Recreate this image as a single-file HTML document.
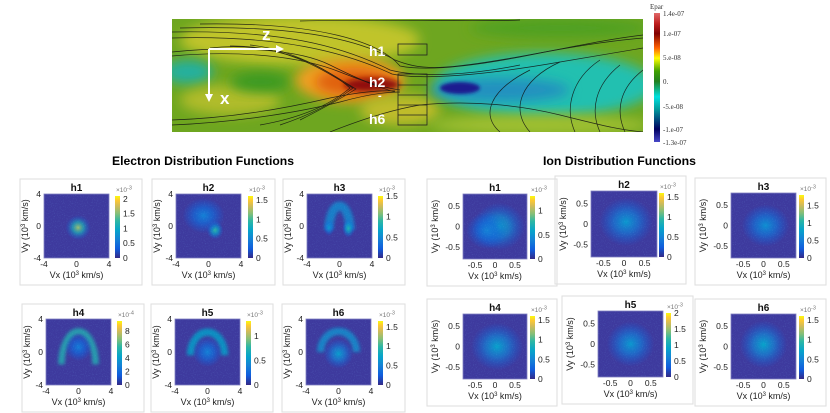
<!DOCTYPE html>
<html><head><meta charset="utf-8"><style>
html,body{margin:0;padding:0;background:#fff;width:830px;height:413px;overflow:hidden}
svg{display:block;font-family:"Liberation Sans",sans-serif}
</style></head><body>
<svg id="fig" width="830" height="413" viewBox="0 0 830 413" xmlns="http://www.w3.org/2000/svg">
<defs>
  <filter id="blur3" x="-50%" y="-50%" width="200%" height="200%"><feGaussianBlur stdDeviation="3"/></filter>
  <filter id="blur6" x="-50%" y="-50%" width="200%" height="200%"><feGaussianBlur stdDeviation="6"/></filter>
  <filter id="blur2" x="-50%" y="-50%" width="200%" height="200%"><feGaussianBlur stdDeviation="1.5"/></filter>
  <filter id="speckle" x="0" y="0" width="100%" height="100%">
    <feTurbulence type="fractalNoise" baseFrequency="0.9" numOctaves="1" seed="3" result="n"/>
    <feColorMatrix in="n" type="matrix" values="0 0 0 0 0.2  0 0 0 0 0.5  0 0 0 0 0.9  0 0 0 1.6 -0.85"/>
  </filter>
  <linearGradient id="parula" x1="0" y1="1" x2="0" y2="0">
    <stop offset="0" stop-color="#352a87"/><stop offset="0.15" stop-color="#0f5cdd"/>
    <stop offset="0.3" stop-color="#1481d6"/><stop offset="0.45" stop-color="#06a4ca"/>
    <stop offset="0.6" stop-color="#2eb7a4"/><stop offset="0.72" stop-color="#87bf77"/>
    <stop offset="0.84" stop-color="#d1bb59"/><stop offset="0.93" stop-color="#fec832"/>
    <stop offset="1" stop-color="#f9fb0e"/>
  </linearGradient>
  <linearGradient id="epar" x1="0" y1="0" x2="0" y2="1">
    <stop offset="0" stop-color="#e06868"/><stop offset="0.08" stop-color="#c02020"/>
    <stop offset="0.16" stop-color="#800000"/><stop offset="0.27" stop-color="#ff6000"/>
    <stop offset="0.35" stop-color="#ffff00"/><stop offset="0.45" stop-color="#40a000"/>
    <stop offset="0.53" stop-color="#208020"/><stop offset="0.65" stop-color="#00e0e0"/>
    <stop offset="0.74" stop-color="#00a0a0"/><stop offset="0.9" stop-color="#000060"/>
    <stop offset="1" stop-color="#4848c8"/>
  </linearGradient>
  <clipPath id="topclip"><rect x="172" y="19" width="471" height="113"/></clipPath>
</defs>

<g clip-path="url(#topclip)">
  <rect x="172" y="19" width="471" height="113" fill="#6ea620"/>
  <ellipse cx="300" cy="40" rx="120" ry="25" fill="#c0c42c" filter="url(#blur6)"/>
  <ellipse cx="188" cy="72" rx="25" ry="12" fill="#20b0a0" filter="url(#blur6)"/>
  <ellipse cx="230" cy="100" rx="50" ry="15" fill="#b0bc2c" filter="url(#blur6)"/>
  <ellipse cx="260" cy="82" rx="30" ry="10" fill="#3a9a20" filter="url(#blur6)"/>
  <ellipse cx="350" cy="80" rx="55" ry="22" fill="#f0a020" filter="url(#blur6)"/>
  <ellipse cx="355" cy="82" rx="40" ry="14" fill="#e06010" filter="url(#blur6)"/>
  <ellipse cx="372" cy="85" rx="28" ry="7" fill="#900808" filter="url(#blur3)"/>
  <ellipse cx="400" cy="110" rx="40" ry="15" fill="#c0bc2c" filter="url(#blur6)"/>
  <ellipse cx="545" cy="85" rx="110" ry="32" fill="#20c0b0" filter="url(#blur6)"/>
  <ellipse cx="500" cy="90" rx="70" ry="12" fill="#2090c0" filter="url(#blur6)"/>
  <ellipse cx="460" cy="88" rx="20" ry="6" fill="#1a1a90" filter="url(#blur2)"/>
  <ellipse cx="540" cy="125" rx="110" ry="10" fill="#a0c030" filter="url(#blur6)"/>
  <ellipse cx="560" cy="28" rx="90" ry="10" fill="#50a020" filter="url(#blur6)"/>
  <g fill="none" stroke="#111" stroke-width="0.7" opacity="0.85">
    <path d="M172 52 C240 45 300 50 330 65 C360 80 380 88 395 92"/>
    <path d="M172 56 C240 50 300 56 340 72 C365 82 385 88 400 90"/>
    <path d="M172 120 C240 118 300 105 330 98 C360 92 380 90 395 91"/>
    <path d="M172 125 C240 122 300 112 340 102 C365 95 385 92 400 92"/>
    <path d="M210 48 C280 40 330 70 350 88 C330 105 300 118 260 125"/>
    <path d="M230 46 C290 45 330 75 353 88 C335 102 310 115 280 125"/>
    <path d="M250 45 C300 50 340 80 356 89 C340 99 320 110 300 120"/>
    <path d="M180 28 C300 25 360 40 395 60 C420 70 440 70 500 60 C560 50 600 40 643 35"/>
    <path d="M200 24 C320 22 380 42 400 66 C430 72 480 65 530 55 C580 45 620 40 643 38"/>
    <path d="M172 32 C280 30 340 45 390 70 C420 78 470 75 520 65"/>
    <path d="M172 38 C280 35 345 52 392 74 C420 80 480 76 560 62 C600 55 630 50 643 48"/>
    <path d="M330 132 C360 120 390 110 420 105 C470 100 520 105 560 115 C600 125 620 130 643 132"/>
    <path d="M600 60 C570 80 565 110 575 132"/>
    <path d="M620 65 C595 85 590 110 600 132"/>
    <path d="M643 70 C620 88 615 110 625 132"/>
    <path d="M560 62 C520 80 510 110 530 132"/>
    <path d="M530 70 C490 90 480 115 500 132"/>
    <path d="M300 21 C400 19 480 22 520 20"/>
  </g>
  <g fill="none" stroke="#222" stroke-width="0.8">
    <rect x="398" y="44" width="29" height="11"/>
    <rect x="398" y="74" width="29" height="51"/>
    <line x1="398" y1="85" x2="427" y2="85"/><line x1="398" y1="95" x2="427" y2="95"/>
    <line x1="398" y1="105" x2="427" y2="105"/><line x1="398" y1="115" x2="427" y2="115"/>
  </g>
  <g stroke="#fff" stroke-width="2" fill="#fff">
    <line x1="209" y1="49" x2="280" y2="49"/><polygon points="284,49 276,45 276,53" stroke="none"/>
    <line x1="209" y1="49" x2="209" y2="98"/><polygon points="209,102 205,94 213,94" stroke="none"/>
  </g>
  <g fill="#fff" font-weight="bold">
    <text x="262" y="40" font-size="17">z</text>
    <text x="220" y="104" font-size="17">x</text>
    <text x="369" y="56" font-size="14">h1</text>
    <text x="369" y="87" font-size="14">h2</text>
    <text x="378" y="99" font-size="11">-</text>
    <text x="369" y="124" font-size="14">h6</text>
  </g>
</g>
<g font-family="Liberation Serif, serif" font-size="7" fill="#333">
  <text x="650" y="9">Epar</text>
  <rect x="654" y="13" width="6" height="129" fill="url(#epar)"/>
  <text x="663" y="16">1.4e-07</text>
  <text x="663" y="36">1.e-07</text>
  <text x="663" y="60">5.e-08</text>
  <text x="663" y="84">0.</text>
  <text x="663" y="109">-5.e-08</text>
  <text x="663" y="132">-1.e-07</text>
  <text x="663" y="145">-1.3e-07</text>
</g>

<text x="112" y="165" font-size="12" font-weight="bold" textLength="182" lengthAdjust="spacingAndGlyphs">Electron Distribution Functions</text>
<text x="543" y="165" font-size="12" font-weight="bold" textLength="153" lengthAdjust="spacingAndGlyphs">Ion Distribution Functions</text>

<g id="panels"></g>
</svg>
<script>
// ---- data ----
const eTicks = [-4, 0, 4];
const iTicks = [-0.5, 0, 0.5];
const eRange = [-4, 4];
const iRange = [-0.8, 0.8];
const panelNames = ["h1","h2","h3","h4","h5","h6","h1","h2","h3","h4","h5","h6"];
const cbTickSets = [
  [0,0.5,1,1.5,2],[0,0.5,1,1.5],[0,0.5,1,1.5],[0,2,4,6,8],[0,0.5,1],[0,0.5,1,1.5],
  [0,0.5,1],[0,0.5,1,1.5],[0,0.5,1,1.5],[0,0.5,1,1.5],[0,0.5,1,1.5,2],[0,0.5,1,1.5]
];
const cbMax = [2.1,1.6,1.5,9.5,1.3,1.65,1.3,1.6,1.8,1.6,2.0,1.6];
const cbExp = ["-3","-3","-3","-4","-3","-3","-3","-3","-3","-3","-3","-3"];
// blobs: [cx, cy, rx, ry, intensity]
const blobs = [
  [[0.2,-0.2,1.2,1.2,0.75]],
  [[0.8,-0.5,0.8,0.9,0.6],[-0.6,1.3,2.0,1.7,0.3]],
  [[1.1,-0.3,0.6,0.9,0.55],[-1.3,-0.2,0.5,0.8,0.4]],
  [[0,0.6,1.3,1.3,0.28]],
  [[0,0,1.4,1.4,0.3]],
  [[0,-0.2,1.4,1.4,0.42]],
  [[0.1,0,0.5,0.45,0.48],[-0.2,-0.1,0.4,0.35,0.3]],
  [[0.05,0.05,0.5,0.45,0.4]],
  [[0.05,0,0.45,0.4,0.36]],
  [[0.05,0,0.5,0.45,0.44]],
  [[0,0,0.45,0.42,0.4]],
  [[0,0.05,0.45,0.45,0.45]]
];
// arcs: [cx, cy, rx, ry, width, intensity]
const arcs = [
  [],[],
  [[0,-0.5,1.3,3.0,1.1,0.35]],
  [[0,-1.5,2.1,4.0,0.8,0.55]],
  [[0,-0.4,2.1,2.8,0.9,0.45]],
  [[0,0,2.2,2.5,0.9,0.38]],
  [],[],[],[],[],[]
];
// ---- layout ----
const layout = [
  [44,194,65,64,115],[176,194,65,64,248],[307,194,65,64,378],
  [46,319,65,66,117],[175,319,65,66,246],[306,319,65,66,378],
  [463,194,64,65,530],[591,191,66,66,659],[731,193,65,65,799],
  [463,314,64,65,530],[598,311,65,66,666],[731,314,65,65,799]
];
const NS = "http://www.w3.org/2000/svg";
const root = document.getElementById("panels");
function mk(tag, attrs, parent){const e=document.createElementNS(NS,tag);for(const k in attrs)e.setAttribute(k,attrs[k]);parent.appendChild(e);return e;}
function parulaColor(t){
  const st=[[0,[53,42,135]],[0.15,[15,92,221]],[0.3,[20,129,214]],[0.45,[6,164,202]],[0.6,[46,183,164]],[0.72,[135,191,119]],[0.84,[209,187,89]],[0.93,[254,200,50]],[1,[249,251,14]]];
  for(let i=1;i<st.length;i++){if(t<=st[i][0]){const a=st[i-1],b=st[i],f=(t-a[0])/(b[0]-a[0]);return "rgb("+a[1].map((v,j)=>Math.round(v+(b[1][j]-v)*f)).join(",")+")";}}
  return "rgb(249,251,14)";
}
layout.forEach((L,i)=>{
  const [px,py,pw,ph,cbx]=L;
  const ion = i>=6;
  const rng = ion?iRange:eRange, ticks = ion?iTicks:eTicks;
  const sx = v=>px+(v-rng[0])/(rng[1]-rng[0])*pw;
  const sy = v=>py+ph-(v-rng[0])/(rng[1]-rng[0])*ph;
  const g = mk("g",{},root);
  
  
  const left = px-(ion?36:24);
  mk("rect",{x:left,y:py-15,width:cbx+27-left,height:ph+42,fill:"none",stroke:"#ddd","stroke-width":1},g);
  const title = mk("text",{x:px+pw/2,y:py-3,"font-size":10,"font-weight":"bold","text-anchor":"middle",fill:"#111"},g);
  title.textContent = panelNames[i];
  
  
  const cid = "clip"+i;
  const cp = mk("clipPath",{id:cid},g); mk("rect",{x:px,y:py,width:pw,height:ph},cp);
  const hm = mk("g",{"clip-path":"url(#"+cid+")"},g);
  
  
  mk("rect",{x:px,y:py,width:pw,height:ph,fill:"#3e3a9e"},hm);
  const kx = pw/(rng[1]-rng[0]), ky = ph/(rng[1]-rng[0]);
  arcs[i].forEach(a=>{
    const [cx,cy,rx,ry,w,t]=a;
    const p = mk("path",{d:"M"+sx(cx-rx)+" "+sy(cy)+" A"+(rx*kx)+" "+(ry*ky)+" 0 0 1 "+sx(cx+rx)+" "+sy(cy),fill:"none",stroke:parulaColor(t),"stroke-width":w*kx,"stroke-opacity":0.8,filter:"url(#blur2)"},hm);
    
    
  });
  blobs[i].forEach((b,j)=>{
    const [cx,cy,rx,ry,t]=b;
    const gid="rg"+i+"_"+j;
    const rg = mk("radialGradient",{id:gid},g);
    mk("stop",{offset:"0","stop-color":parulaColor(t),"stop-opacity":1},rg);
    mk("stop",{offset:"0.45","stop-color":parulaColor(t*0.7),"stop-opacity":0.7},rg);
    mk("stop",{offset:"1","stop-color":parulaColor(0.15),"stop-opacity":0},rg);
    const e = mk("ellipse",{cx:sx(cx),cy:sy(cy),rx:rx*kx*1.3,ry:ry*ky*1.3,fill:"url(#"+gid+")"},hm);
    
    
  });
  mk("rect",{x:px,y:py,width:pw,height:ph,fill:"#000",filter:"url(#speckle)",opacity:0.35},hm);
  mk("rect",{x:px,y:py,width:pw,height:ph,fill:"none",stroke:"#8080c0","stroke-width":0.8},g);
  ticks.forEach(t=>{
    const tx = mk("text",{x:sx(t),y:py+ph+9,"font-size":8.5,"text-anchor":"middle",fill:"#222"},g);
    tx.textContent = t;
    
    
    const ty = mk("text",{x:px-3,y:sy(t)+3,"font-size":8.5,"text-anchor":"end",fill:"#222"},g);
    ty.textContent = t;
    
    
  });
  const xl = mk("text",{x:px+pw/2,y:py+ph+20,"font-size":9,"text-anchor":"middle",fill:"#222"},g);
  xl.innerHTML = 'Vx (10<tspan dy="-3" font-size="6">3</tspan><tspan dy="3"> km/s)</tspan>';
  
  
  const yx = px-(ion?25:16), yy = py+ph/2;
  const yl = mk("text",{x:yx,y:yy,"font-size":9,"text-anchor":"middle",fill:"#222",transform:"rotate(-90 "+yx+" "+yy+")"},g);
  yl.innerHTML = 'Vy (10<tspan dy="-3" font-size="6">3</tspan><tspan dy="3"> km/s)</tspan>';
  
  
  const cbTop = py+2, cbH = ph-2;
  const cb = mk("rect",{x:cbx,y:cbTop,width:5,height:cbH,fill:"url(#parula)"},g);
  
  
  cbTickSets[i].forEach(t=>{
    const yv = cbTop+cbH-(t/cbMax[i])*cbH;
    const ct = mk("text",{x:cbx+8,y:yv+3,"font-size":8.5,fill:"#222"},g);
    ct.textContent = t;
    
    
  });
  const ex = mk("text",{x:cbx+1,y:py-2,"font-size":6.5,fill:"#777"},g);
  ex.innerHTML = '×10<tspan dy="-2.5" font-size="5.5">'+cbExp[i]+'</tspan>';
  
  
});
</script>
</body></html>
